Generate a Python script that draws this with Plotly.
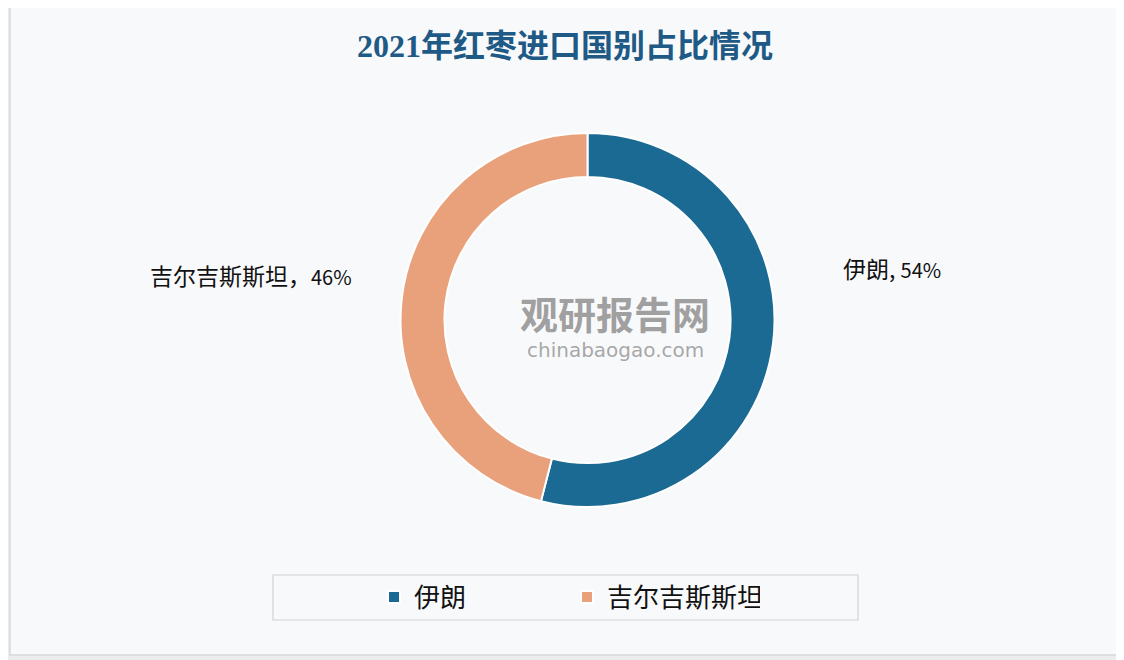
import plotly.graph_objects as go

title = "2021年红枣进口国别占比情况"
countries = ["伊朗", "吉尔吉斯斯坦"]
shares = [54, 46]
colors = ["#1b6a93", "#e9a17c"]
label_seps = [", ", "，"]

W, H = 1124, 660
OFF = 8  # page body margin
cjk = "Noto Sans CJK SC"


def px(x):
    return (x - OFF) / W


def py(y):
    return (H - (y - OFF)) / H


fig = go.Figure()
fig.add_trace(go.Pie(
    labels=countries,
    values=shares,
    hole=0.765,
    sort=False,
    direction="clockwise",
    rotation=0,
    textinfo="none",
    hoverinfo="label+percent",
    marker=dict(colors=colors, line=dict(color="#ffffff", width=2)),
    domain=dict(x=[px(400), px(775)], y=[py(507), py(133)]),
))

shapes = [
    dict(type="rect", xref="paper", yref="paper", x0=px(10), x1=px(1117), y0=py(655), y1=py(5),
         fillcolor="#f8f9fb", line=dict(color="#d6d7da", width=1.5), layer="below"),
    dict(type="rect", xref="paper", yref="paper", x0=px(273), x1=px(858), y0=py(620), y1=py(575),
         fillcolor="rgba(0,0,0,0)", line=dict(color="#cfd1d4", width=1.2), layer="below"),
]

annotations = [
    dict(text="<b>" + title + "</b>", x=px(565), y=py(46), xref="paper", yref="paper",
         showarrow=False, xanchor="center", yanchor="middle",
         font=dict(family="Liberation Serif, " + cjk, size=32, color="#1e5a85")),
    dict(text=countries[0] + label_seps[0] + f"<span style='font-size:20px'>{shares[0]}%</span>",
         x=px(841), y=py(268), xref="paper", yref="paper", showarrow=False,
         xanchor="left", yanchor="middle", font=dict(family=cjk, size=23, color="#111111")),
    dict(text=countries[1] + label_seps[1] + f"<span style='font-size:20px'>{shares[1]}%</span>",
         x=px(148), y=py(275), xref="paper", yref="paper", showarrow=False,
         xanchor="left", yanchor="middle", font=dict(family=cjk, size=23, color="#111111")),
    # watermark
    dict(text="<b>观研报告网</b>", x=px(615), y=py(312), xref="paper", yref="paper",
         showarrow=False, xanchor="center", yanchor="middle",
         font=dict(family=cjk, size=38, color="rgba(120,120,120,0.7)")),
    dict(text="chinabaogao.com", x=px(615), y=py(350), xref="paper", yref="paper",
         showarrow=False, xanchor="center", yanchor="middle",
         font=dict(family="DejaVu Sans", size=20, color="rgba(130,130,130,0.7)")),
]

fig.update_layout(
    width=W, height=H,
    margin=dict(l=0, r=0, t=0, b=0),
    paper_bgcolor="#ebecee",
    plot_bgcolor="rgba(0,0,0,0)",
    showlegend=True,
    legend=dict(orientation="h", x=px(567), xanchor="center", y=py(597), yanchor="middle",
                font=dict(family=cjk, size=26, color="#111111"),
                bgcolor="rgba(0,0,0,0)", entrywidth=148, itemwidth=30, traceorder="normal"),
    shapes=shapes,
    annotations=annotations,
)

fig.write_html("out.html")
